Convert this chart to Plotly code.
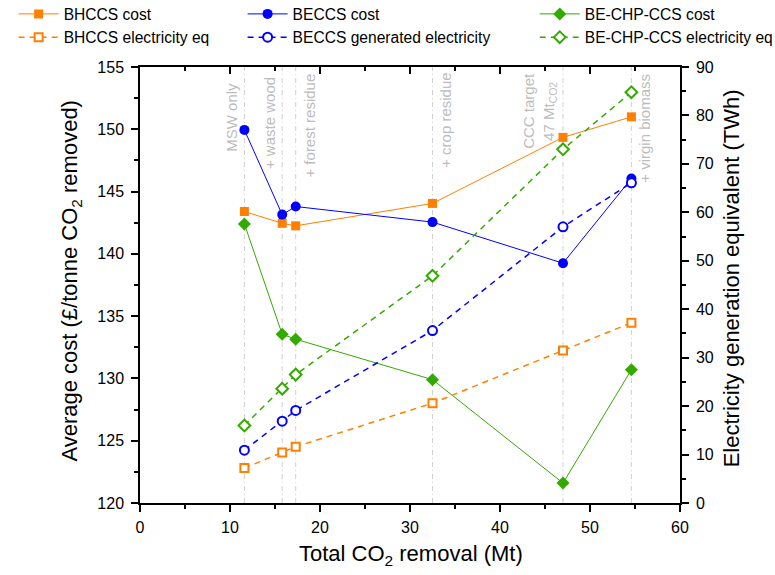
import plotly.graph_objects as go

# Total CO2 removal (Mt) at each feedstock step
removal = [11.6, 15.8, 17.3, 32.5, 47.0, 54.6]
step_labels = ["MSW only", "+ waste wood", "+ forest residue", "+ crop residue",
               "CCC target<br>47 Mt<sub>CO2</sub>", "+ virgin biomass"]

# Average cost (GBP / tonne CO2 removed)
bhccs_cost = [143.4, 142.45, 142.25, 144.05, 149.35, 151.0]
beccs_cost = [149.95, 143.15, 143.8, 142.55, 139.25, 146.05]
chp_cost = [142.4, 133.55, 133.15, 129.9, 121.6, 130.7]

# Electricity generation equivalent (TWh)
bhccs_elec = [7.2, 10.4, 11.6, 20.6, 31.5, 37.2]
beccs_elec = [10.9, 16.9, 19.1, 35.6, 57.0, 66.1]
chp_elec = [16.0, 23.6, 26.5, 46.9, 73.0, 84.8]

ORANGE = "#FF8000"
BLUE = "#0000FF"
GREEN = "#33AA00"
FONT = "Liberation Sans, Arial, sans-serif"

fig = go.Figure()


def cost_trace(y, name, color, symbol, size, legend):
    fig.add_trace(go.Scatter(
        x=removal, y=y, name=name, mode="lines+markers", legend=legend,
        line=dict(color=color, width=1),
        marker=dict(color=color, symbol=symbol, size=size),
    ))


def elec_trace(y, name, color, symbol, size, legend):
    fig.add_trace(go.Scatter(
        x=removal, y=y, name=name, mode="lines+markers", legend=legend, yaxis="y2",
        line=dict(color=color, width=1.5, dash="6px,5px"),
        marker=dict(color="white", symbol=symbol, size=size,
                    line=dict(color=color, width=2)),
    ))


cost_trace(bhccs_cost, "BHCCS cost", ORANGE, "square", 9, "legend")
elec_trace(bhccs_elec, "BHCCS electricity eq", ORANGE, "square", 8, "legend")
cost_trace(beccs_cost, "BECCS cost", BLUE, "circle", 10, "legend2")
elec_trace(beccs_elec, "BECCS generated electricity", BLUE, "circle", 9, "legend2")
cost_trace(chp_cost, "BE-CHP-CCS cost", GREEN, "diamond", 10, "legend3")
elec_trace(chp_elec, "BE-CHP-CCS electricity eq", GREEN, "diamond", 9, "legend3")

# Feedstock step markers: vertical dash-dot guides with rotated labels
label_side = ["left", "left", "right", "right", "left", "right"]
label_drop = [9, 4, 0, 0, 0, 0]
for xv, txt, side, drop in zip(removal, step_labels, label_side, label_drop):
    fig.add_shape(type="line", xref="x", yref="paper", x0=xv, x1=xv, y0=0, y1=1,
                  line=dict(color="#CFCFCF", width=1, dash="5px,3px,1px,3px"), layer="below")
    fig.add_annotation(
        x=xv, xref="x", y=0.99, yref="paper", text=txt, showarrow=False,
        textangle=-90, align="center",
        xanchor="right" if side == "left" else "left",
        xshift=-2 if side == "left" else 3, yanchor="top", yshift=-drop,
        font=dict(family=FONT, size=15, color="#BDBDBD"),
    )

axis_common = dict(showline=True, linecolor="black", linewidth=1.5,
                   showgrid=False, zeroline=False,
                   tickfont=dict(family=FONT, size=16, color="black"))

fig.update_layout(
    width=775, height=575,
    margin=dict(l=140, r=95, t=67, b=72, autoexpand=False),
    paper_bgcolor="white", plot_bgcolor="white",
    font=dict(family=FONT, size=16, color="black"),
    xaxis=dict(range=[0, 60], dtick=10, ticks="outside", ticklen=7, tickwidth=1.5,
               tickcolor="black", ticklabelstandoff=2,
               minor=dict(dtick=5, ticks="outside", ticklen=4, tickwidth=1.5, tickcolor="black"),
               **axis_common),
    xaxis2=dict(range=[0, 60], dtick=10, overlaying="x", side="top", ticks="inside",
                ticklen=7, tickwidth=1.5, tickcolor="black", showticklabels=False,
                minor=dict(dtick=5, ticks="inside", ticklen=4, tickwidth=1.5, tickcolor="black"),
                **axis_common),
    yaxis=dict(range=[120, 155], dtick=5, ticks="outside", ticklen=7, tickwidth=1.5,
               tickcolor="black", ticklabelstandoff=4,
               minor=dict(dtick=2.5, ticks="outside", ticklen=4, tickwidth=1.5, tickcolor="black"),
               **axis_common),
    yaxis2=dict(range=[0, 90], dtick=10, overlaying="y", side="right", ticks="outside",
                ticklen=7, tickwidth=1.5, tickcolor="black", ticklabelstandoff=4,
                minor=dict(dtick=5, ticks="outside", ticklen=4, tickwidth=1.5, tickcolor="black"),
                **axis_common),
    showlegend=True,
)

# Dummy trace so the top mirror axis is drawn
fig.add_trace(go.Scatter(x=[None], y=[None], xaxis="x2", showlegend=False, hoverinfo="skip"))

legend_style = dict(orientation="v", yanchor="top", xanchor="left", y=1.16,
                    bgcolor="rgba(0,0,0,0)", borderwidth=0,
                    font=dict(family=FONT, size=15.6, color="black"),
                    tracegroupgap=0, itemwidth=40)
fig.update_layout(
    legend=dict(x=-0.234, **legend_style),
    legend2=dict(x=0.19, **legend_style),
    legend3=dict(x=0.731, **legend_style),
)

# Axis titles
title_font = dict(family=FONT, size=22, color="black")
fig.add_annotation(text="Average cost (£/tonne CO<sub>2</sub> removed)", xref="paper", yref="paper",
                   x=-0.127, y=0.511, textangle=-90, showarrow=False,
                   xanchor="center", yanchor="middle", font=title_font)
fig.add_annotation(text="Electricity generation equivalent (TWh)", xref="paper", yref="paper",
                   x=1.095, y=0.516, textangle=-90, showarrow=False,
                   xanchor="center", yanchor="middle", font=title_font)
fig.add_annotation(text="Total CO<sub>2</sub> removal (Mt)", xref="paper", yref="paper",
                   x=0.501, y=-0.12, showarrow=False,
                   xanchor="center", yanchor="middle", font=title_font)

fig.write_html("out.html")
